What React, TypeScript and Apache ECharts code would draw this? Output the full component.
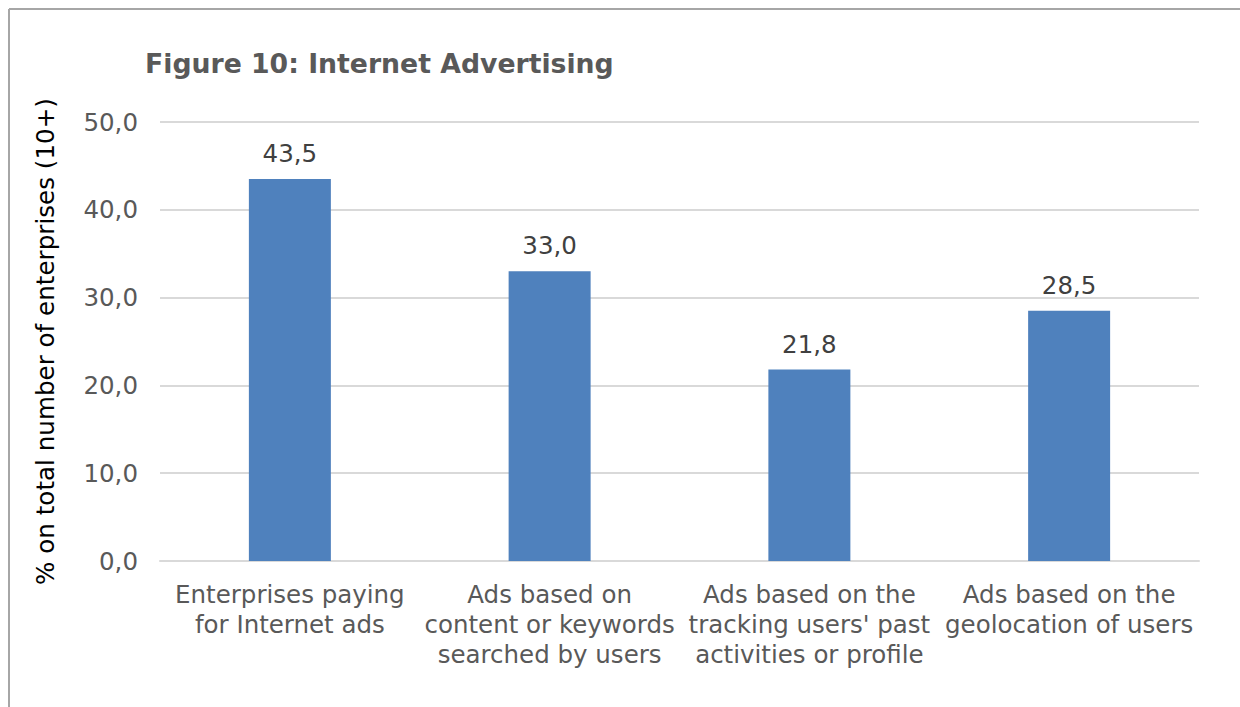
import React, { useEffect, useRef } from "react";
import * as echarts from "echarts";

const TITLE = "Figure 10: Internet Advertising";
const Y_NAME = "% on total number of enterprises (10+)";
const categories = [
  "Enterprises paying\nfor Internet ads",
  "Ads based on\ncontent or keywords\nsearched by users",
  "Ads based on the\ntracking users' past\nactivities or profile",
  "Ads based on the\ngeolocation of users",
];
const values = [43.5, 33.0, 21.8, 28.5];
const yMin = 0;
const yMax = 50;
const yStep = 10;

const fmt = (v: number) => v.toFixed(1).replace(".", ",");

export default function App() {
  const ref = useRef<HTMLDivElement>(null);
  useEffect(() => {
    if (!ref.current) return;
    const chart = echarts.init(ref.current, undefined, { renderer: "svg" });
    const font = "'DejaVu Sans', Verdana, sans-serif";
    chart.setOption({
      animation: false,
      backgroundColor: "#ffffff",
      textStyle: { fontFamily: font },
      title: {
        text: TITLE,
        left: 145,
        top: 50,
        padding: 0,
        textStyle: { fontFamily: font, fontSize: 26.7, fontWeight: "bold", color: "#595959" },
      },
      graphic: [
        { type: "line", shape: { x1: 9, y1: 9, x2: 1240, y2: 9 }, style: { stroke: "#a6a6a6", lineWidth: 2 } },
        { type: "line", shape: { x1: 9, y1: 9, x2: 9, y2: 707 }, style: { stroke: "#a6a6a6", lineWidth: 2 } },
      ],
      grid: { left: 160, right: 41, top: 122, bottom: 146, containLabel: false },
      xAxis: {
        type: "category",
        data: categories,
        axisLine: { show: true, lineStyle: { color: "#d9d9d9", width: 2 } },
        axisTick: { show: false },
        axisLabel: {
          interval: 0,
          margin: 18,
          fontFamily: font,
          fontSize: 24.5,
          lineHeight: 30,
          color: "#595959",
        },
      },
      yAxis: {
        type: "value",
        min: yMin,
        max: yMax,
        interval: yStep,
        name: Y_NAME,
        nameLocation: "middle",
        nameGap: 102,
        nameTextStyle: { fontFamily: font, fontSize: 24.6, color: "#000000" },
        axisLine: { show: false },
        axisTick: { show: false },
        splitLine: { lineStyle: { color: "#d9d9d9", width: 2 } },
        axisLabel: {
          margin: 22,
          fontFamily: font,
          fontSize: 24.5,
          color: "#595959",
          formatter: (v: number) => fmt(v),
        },
      },
      series: [
        {
          type: "bar",
          data: values,
          barWidth: 82,
          itemStyle: { color: "#4f81bd" },
          label: {
            show: true,
            position: "top",
            distance: 13,
            fontFamily: font,
            fontSize: 24.5,
            color: "#404040",
            formatter: (p: any) => fmt(p.value),
          },
        },
      ],
    });
    return () => chart.dispose();
  }, []);
  return (
    <div
      ref={ref}
      style={{ position: "fixed", left: 0, top: 0, width: 1240, height: 707, background: "#fff" }}
    />
  );
}
